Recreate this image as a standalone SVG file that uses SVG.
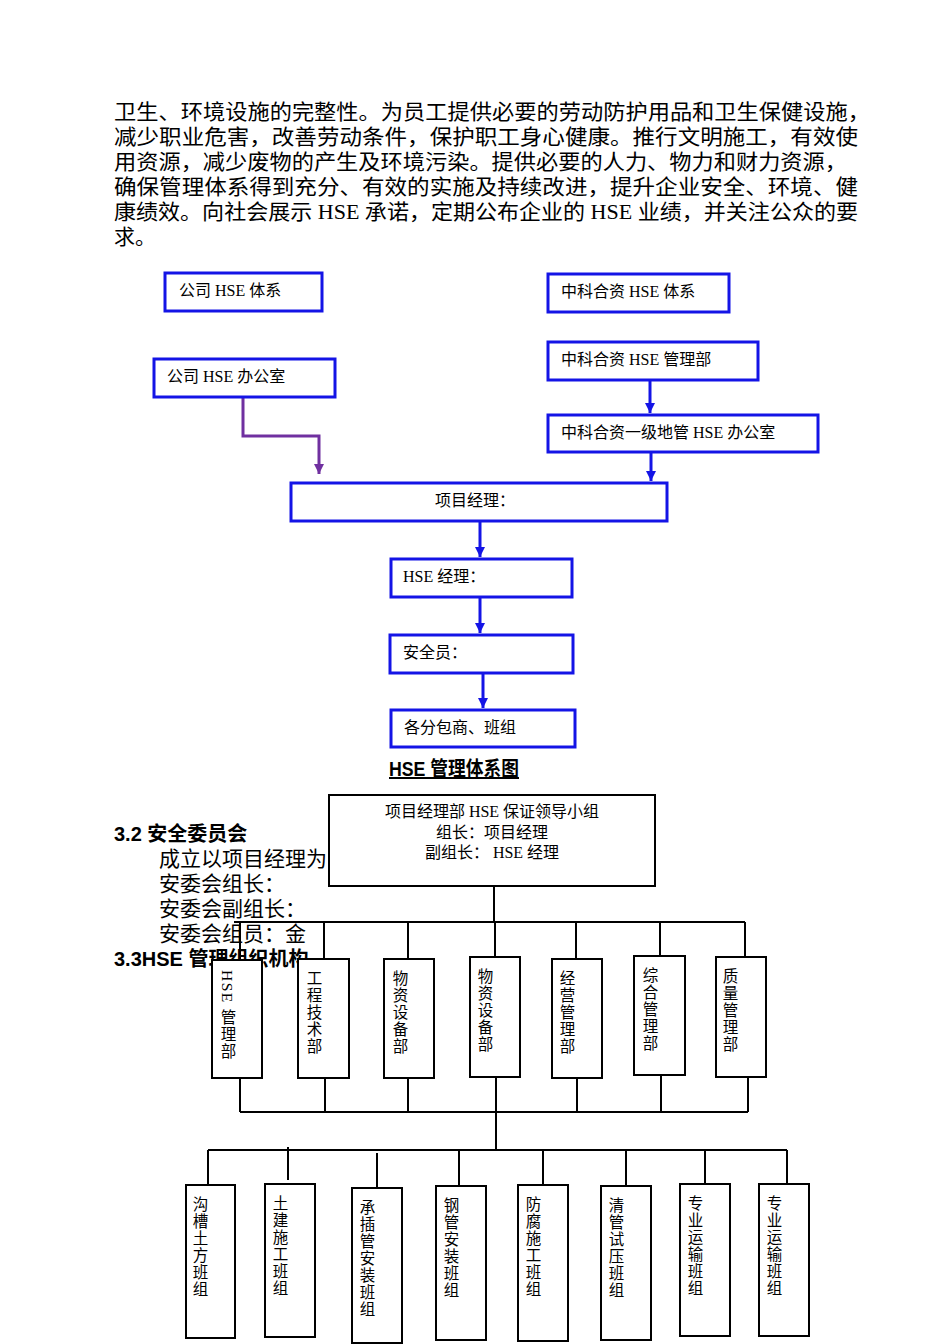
<svg xmlns="http://www.w3.org/2000/svg" width="950" height="1344" viewBox="0 0 950 1344">
<style>
.body{font-family:"Liberation Serif","Noto Sans CJK SC",serif;font-size:21px;fill:#000}
.hd{font-family:"Liberation Sans","Noto Sans CJK SC",sans-serif;font-size:20px;font-weight:bold;fill:#000}
.bt{font-family:"Liberation Serif","Noto Sans CJK SC",serif;font-size:16px;fill:#000}
.bb{fill:#fff;stroke:#1414e6;stroke-width:3}
.kb{fill:#fff;stroke:#000;stroke-width:2}
.vt{font-family:"Liberation Serif","Noto Sans CJK SC",serif;font-size:15.5px;fill:#000;writing-mode:vertical-rl;letter-spacing:1.5px}
.ln{stroke:#000;stroke-width:2;fill:none}
.ba{stroke:#1414e6;stroke-width:3;fill:none}
</style>
<defs>
<marker id="ap" markerWidth="10" markerHeight="10" refX="5" refY="10" markerUnits="userSpaceOnUse" viewBox="0 0 10 10"><path d="M0,0 L10,0 L5,10 Z" fill="#7030a0"/></marker>
<marker id="ab2" markerWidth="10" markerHeight="10" refX="5" refY="10" markerUnits="userSpaceOnUse" viewBox="0 0 10 10"><path d="M0,0 L10,0 L5,10 Z" fill="#1414e6"/></marker>
</defs>
<rect width="950" height="1344" fill="#fff"/>
<g id="bodytext">
<text class="body" x="114" y="119" textLength="756" lengthAdjust="spacingAndGlyphs">卫生、环境设施的完整性。为员工提供必要的劳动防护用品和卫生保健设施，</text>
<text class="body" x="114" y="144" textLength="744" lengthAdjust="spacingAndGlyphs">减少职业危害，改善劳动条件，保护职工身心健康。推行文明施工，有效使</text>
<text class="body" x="114" y="169" textLength="733" lengthAdjust="spacingAndGlyphs">用资源，减少废物的产生及环境污染。提供必要的人力、物力和财力资源，</text>
<text class="body" x="114" y="194" textLength="744" lengthAdjust="spacingAndGlyphs">确保管理体系得到充分、有效的实施及持续改进，提升企业安全、环境、健</text>
<text class="body" x="114" y="219" textLength="744" lengthAdjust="spacingAndGlyphs">康绩效。向社会展示 HSE 承诺，定期公布企业的 HSE 业绩，并关注公众的要</text>
<text class="body" x="114" y="244">求。</text>
<text class="hd" x="389" y="776" font-size="17" text-decoration="underline" textLength="130" lengthAdjust="spacingAndGlyphs">HSE 管理体系图</text>
<text class="hd" x="114" y="841">3.2 安全委员会</text>
<text class="body" x="159" y="866">成立以项目经理为</text>
<text class="body" x="159" y="891">安委会组长：</text>
<text class="body" x="159" y="916">安委会副组长：</text>
<text class="body" x="159" y="941">安委会组员：金</text>
<text class="hd" x="114" y="966">3.3HSE 管理组织机构</text>
</g>
<g id="connectors">
<path class="ba" d="M650,380 V413" marker-end="url(#ab2)"/>
<path class="ba" d="M651,452 V481" marker-end="url(#ab2)"/>
<path class="ba" d="M480,521 V557" marker-end="url(#ab2)"/>
<path class="ba" d="M480,597 V633" marker-end="url(#ab2)"/>
<path class="ba" d="M483,673 V708" marker-end="url(#ab2)"/>
<path d="M243,397 V436 H319 V474" stroke="#7030a0" stroke-width="3" fill="none" marker-end="url(#ap)"/>
<path class="ln" d="M494,886 V922 M234,922 H745 M240,922 V960 M324,922 V959 M408,922 V959 M495,922 V957 M576,922 V959 M660,922 V956 M745,922 V957"/>
<path class="ln" d="M240,1078 V1112 M325,1078 V1112 M408,1078 V1112 M496,1077 V1150 M577,1078 V1112 M661,1075 V1112 M748,1077 V1112 M240,1112 H748"/>
<path class="ln" d="M208,1150 H787 M208,1150 V1185 M288,1147 V1180 M377,1153 V1188 M459,1150 V1186 M543,1150 V1185 M626,1150 V1186 M705,1150 V1184 M787,1150 V1184"/>
</g>
<g id="n1"><rect class="bb" x="165" y="273" width="157" height="38"/><text class="bt" x="179" y="296">公司 HSE 体系</text></g>
<g id="n2"><rect class="bb" x="548" y="274" width="181" height="38"/><text class="bt" x="561" y="297">中科合资 HSE 体系</text></g>
<g id="n3"><rect class="bb" x="154" y="359" width="181" height="38"/><text class="bt" x="167" y="382">公司 HSE 办公室</text></g>
<g id="n4"><rect class="bb" x="548" y="342" width="210" height="38"/><text class="bt" x="561" y="365">中科合资 HSE 管理部</text></g>
<g id="n5"><rect class="bb" x="548" y="415" width="270" height="37"/><text class="bt" x="561" y="438">中科合资一级地管 HSE 办公室</text></g>
<g id="n6"><rect class="bb" x="291" y="483" width="376" height="38"/><text class="bt" x="475" y="506" text-anchor="middle">项目经理：</text></g>
<g id="n7"><rect class="bb" x="391" y="559" width="181" height="38"/><text class="bt" x="403" y="582">HSE 经理：</text></g>
<g id="n8"><rect class="bb" x="390" y="635" width="183" height="38"/><text class="bt" x="403" y="658">安全员：</text></g>
<g id="n9"><rect class="bb" x="391" y="710" width="184" height="37"/><text class="bt" x="404" y="733">各分包商、班组</text></g>
<g id="lead"><rect class="kb" x="329" y="795" width="326" height="91"/>
<text class="bt" x="492" y="817" text-anchor="middle">项目经理部 HSE 保证领导小组</text>
<text class="bt" x="492" y="838" text-anchor="middle">组长：项目经理</text>
<text class="bt" x="492" y="858" text-anchor="middle">副组长： HSE 经理</text></g>
<g id="d1"><rect class="kb" x="212" y="960" width="50" height="118"/><text class="vt" x="227" y="970">HSE 管理部</text></g>
<g id="d2"><rect class="kb" x="298" y="959" width="51" height="119"/><text class="vt" x="313" y="970">工程技术部</text></g>
<g id="d3"><rect class="kb" x="384" y="959" width="50" height="119"/><text class="vt" x="399" y="970">物资设备部</text></g>
<g id="d4"><rect class="kb" x="470" y="957" width="50" height="120"/><text class="vt" x="484" y="968">物资设备部</text></g>
<g id="d5"><rect class="kb" x="552" y="959" width="50" height="119"/><text class="vt" x="566" y="970">经营管理部</text></g>
<g id="d6"><rect class="kb" x="634" y="956" width="51" height="119"/><text class="vt" x="649" y="967">综合管理部</text></g>
<g id="d7"><rect class="kb" x="716" y="957" width="50" height="120"/><text class="vt" x="729" y="968">质量管理部</text></g>
<g id="t1"><rect class="kb" x="186" y="1185" width="49" height="153"/><text class="vt" x="199" y="1196">沟槽土方班组</text></g>
<g id="t2"><rect class="kb" x="265" y="1184" width="50" height="153"/><text class="vt" x="279" y="1195">土建施工班组</text></g>
<g id="t3"><rect class="kb" x="352" y="1188" width="50" height="155"/><text class="vt" x="366" y="1199">承插管安装班组</text></g>
<g id="t4"><rect class="kb" x="436" y="1186" width="50" height="154"/><text class="vt" x="450" y="1197">钢管安装班组</text></g>
<g id="t5"><rect class="kb" x="518" y="1185" width="50" height="156"/><text class="vt" x="532" y="1196">防腐施工班组</text></g>
<g id="t6"><rect class="kb" x="601" y="1186" width="50" height="154"/><text class="vt" x="615" y="1197">清管试压班组</text></g>
<g id="t7"><rect class="kb" x="680" y="1184" width="50" height="152"/><text class="vt" x="694" y="1195">专业运输班组</text></g>
<g id="t8"><rect class="kb" x="759" y="1184" width="50" height="152"/><text class="vt" x="773" y="1195">专业运输班组</text></g>
</svg>
